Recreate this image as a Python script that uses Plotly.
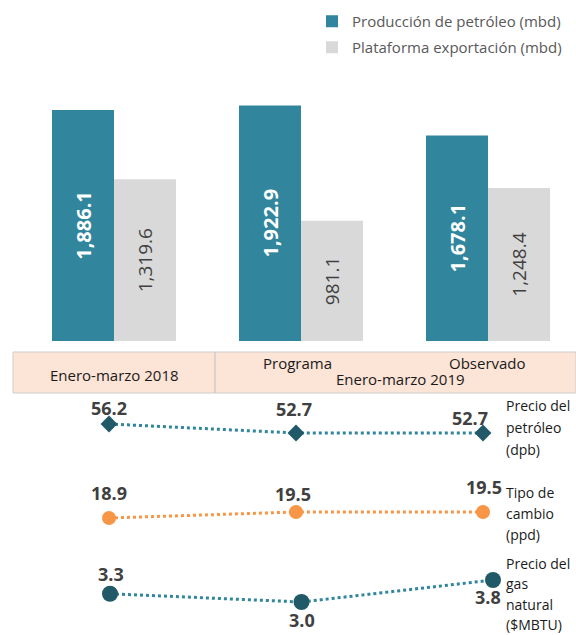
import plotly.graph_objects as go

W, H = 576, 635

# ---------------- data ----------------
periodos = ["Enero-marzo 2018", "Programa", "Observado"]
grupo_2019 = "Enero-marzo 2019"
produccion = [1886.1, 1922.9, 1678.1]
plataforma = [1319.6, 981.1, 1248.4]
precio_petroleo = [56.2, 52.7, 52.7]
tipo_cambio = [18.9, 19.5, 19.5]
precio_gas = [3.3, 3.0, 3.8]
nombre_produccion = "Producción de petróleo (mbd)"
nombre_plataforma = "Plataforma exportación (mbd)"
nombre_petroleo = ["Precio del", "petróleo", "(dpb)"]
nombre_cambio = ["Tipo de", "cambio", "(ppd)"]
nombre_gas = ["Precio del", "gas", "natural", "($MBTU)"]

FONT = "Open Sans"
TEAL = "#31859C"
GREY = "#D9D9D9"
DARK = "#215968"
ORANGE = "#F79646"
TXT = "#404040"

def py(p):  # pixel y -> paper
    return 1 - p / H

def px(p):
    return p / W

xpos = list(range(len(periodos)))

fig = go.Figure()

fig.add_trace(go.Bar(
    x=xpos, y=produccion, name=nombre_produccion, marker_color=TEAL,
    marker_line_width=0, texttemplate="%{y:,.1f}", textposition="inside",
    insidetextanchor="middle", textangle=-90,
    textfont=dict(family=FONT, size=20, color="white", weight="bold"),
    legend="legend",
))
fig.add_trace(go.Bar(
    x=xpos, y=plataforma, name=nombre_plataforma, marker_color=GREY,
    marker_line_width=0, texttemplate="%{y:,.1f}", textposition="inside",
    insidetextanchor="middle", textangle=-90,
    textfont=dict(family=FONT, size=19, color=TXT),
    legend="legend2",
))

line_specs = [
    (precio_petroleo, "x2", "y3", "diamond", 13, DARK, TEAL),
    (tipo_cambio, "x2", "y4", "circle", 14, ORANGE, ORANGE),
    (precio_gas, "x3", "y5", "circle", 16, DARK, TEAL),
]
for vals, xa, ya, sym, sz, mc, lc in line_specs:
    fig.add_trace(go.Scatter(
        x=xpos, y=vals, xaxis=xa, yaxis=ya, mode="lines+markers",
        line=dict(color=lc, width=3, dash="dot"),
        marker=dict(symbol=sym, size=sz, color=mc),
        showlegend=False, cliponaxis=False,
    ))

annotations = []
# value labels (offsets per point: xshift, yshift)
label_specs = [
    (precio_petroleo, "x2", "y3", [(0, 16), (-2, 24), (-13, 15)]),
    (tipo_cambio, "x2", "y4", [(0, 25), (-3, 18), (1, 25)]),
    (precio_gas, "x3", "y5", [(1, 20), (0, -18), (-5, -17)]),
]
for vals, xa, ya, offs in label_specs:
    for i, v in enumerate(vals):
        annotations.append(dict(
            x=xpos[i], y=v, xref=xa, yref=ya, text=f"{v:.1f}",
            showarrow=False, xshift=offs[i][0], yshift=offs[i][1],
            font=dict(family=FONT, size=18, color=TXT, weight="bold"),
        ))

# series names on right
for lines, top, gap in [(nombre_petroleo, 405, 22), (nombre_cambio, 492, 21), (nombre_gas, 563, 20.5)]:
    for j, t in enumerate(lines):
        annotations.append(dict(
            x=px(504), y=py(top + gap * j), xref="paper", yref="paper",
            text=t, showarrow=False, xanchor="left", yanchor="middle",
            font=dict(family=FONT, size=14, color="#1a1a1a"),
        ))

# table labels
TF = dict(family=FONT, size=15, color="#1a1a1a")
annotations += [
    dict(x=xpos[0], y=py(375), xref="x", yref="paper", text=periodos[0],
         showarrow=False, xshift=0, font=TF),
    dict(x=xpos[1], y=py(363), xref="x", yref="paper", text=periodos[1],
         showarrow=False, xshift=-4, font=TF),
    dict(x=xpos[2], y=py(363), xref="x", yref="paper", text=periodos[2],
         showarrow=False, xshift=-1, font=TF),
    dict(x=(xpos[1] + xpos[2]) / 2, y=py(379), xref="x", yref="paper", text=grupo_2019,
         showarrow=False, xshift=6, font=TF),
]

shapes = [
    dict(type="rect", xref="paper", yref="paper", x0=px(13), x1=1, y0=py(393), y1=py(352),
         fillcolor="#FCE4D6", line=dict(color="#D0CECE", width=1), layer="below"),
    dict(type="line", xref="paper", yref="paper", x0=px(215), x1=px(215), y0=py(393), y1=py(352),
         line=dict(color="#BFBFBF", width=1)),
]

fig.update_layout(
    width=W, height=H, margin=dict(l=0, r=0, t=0, b=0),
    paper_bgcolor="white", plot_bgcolor="white",
    barmode="group", bargap=0.337, bargroupgap=0,
    font=dict(family=FONT),
    xaxis=dict(range=[-0.6096, 2.4706], domain=[0, 1], visible=False, fixedrange=True),
    xaxis2=dict(range=[-0.5829, 2.4973], domain=[0, 1], visible=False, anchor="y3", overlaying="x"),
    xaxis3=dict(range=[-0.5744, 2.4334], domain=[0, 1], visible=False, anchor="y5", overlaying="x"),
    yaxis=dict(range=[0, 2293.9], domain=[py(341), py(60)], visible=False),
    yaxis3=dict(range=[42.2, 65.53], domain=[py(460), py(400)], visible=False, anchor="x2"),
    yaxis4=dict(range=[16.7, 21.7], domain=[py(540), py(490)], visible=False, anchor="x2"),
    yaxis5=dict(range=[1.982, 4.527], domain=[py(630), py(560)], visible=False, anchor="x3"),
    legend=dict(x=px(312), y=py(5), xanchor="left", yanchor="top",
                font=dict(family=FONT, size=15, color="#595959"), bgcolor="rgba(0,0,0,0)"),
    legend2=dict(x=px(312), y=py(31), xanchor="left", yanchor="top",
                 font=dict(family=FONT, size=15, color="#595959"), bgcolor="rgba(0,0,0,0)"),
    annotations=annotations, shapes=shapes,
)

fig.write_html("out.html", config={"displayModeBar": False},
               post_script="document.body.style.margin='0px';")
